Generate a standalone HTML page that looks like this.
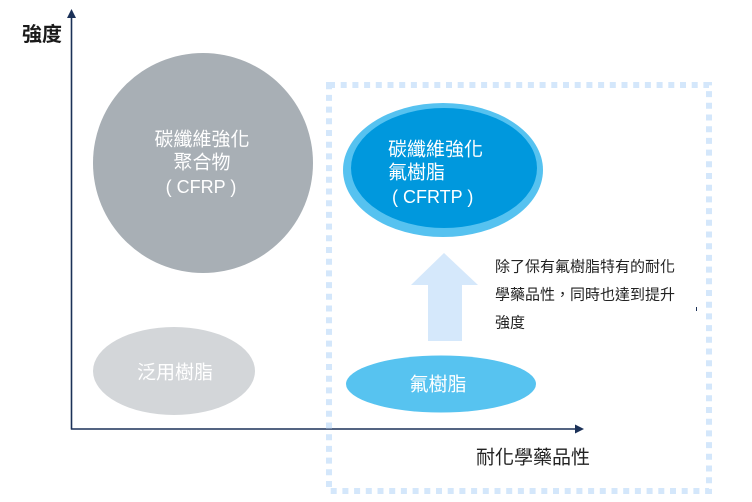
<!DOCTYPE html>
<html>
<head>
<meta charset="utf-8">
<style>
  html, body { margin:0; padding:0; background:#ffffff; }
  body { width:752px; height:502px; overflow:hidden; }
  svg { display:block; }
  .cjk { font-family: "Liberation Sans", "Noto Sans CJK TC", sans-serif; }
</style>
</head>
<body>
<svg width="752" height="502" viewBox="0 0 752 502" xmlns="http://www.w3.org/2000/svg">
  <!-- Big grey circle CFRP -->
  <ellipse cx="203" cy="163" rx="110" ry="110" fill="#a8afb5"/>
  <g class="cjk" fill="#ffffff" font-size="19" text-anchor="middle" dominant-baseline="central">
    <text x="202" y="140">碳纖維強化</text>
    <text x="202" y="163">聚合物</text>
    <text x="201" y="187" font-size="18">( CFRP )</text>
  </g>

  <!-- Small grey ellipse -->
  <ellipse cx="174" cy="371" rx="81" ry="44" fill="#d3d6d9"/>
  <text class="cjk" x="175" y="373" fill="#ffffff" font-size="19" text-anchor="middle" dominant-baseline="central">泛用樹脂</text>

  <!-- Axes -->
  <line x1="71.5" y1="15" x2="71.5" y2="429.5" stroke="#1b3158" stroke-width="1.6"/>
  <polygon points="71.5,9 67,18 76,18" fill="#1b3158"/>
  <line x1="71" y1="429" x2="577" y2="429" stroke="#1b3158" stroke-width="1.6"/>
  <polygon points="584,429 575,424.5 575,433.5" fill="#1b3158"/>

  <!-- Axis labels -->
  <text class="cjk" x="22" y="35" fill="#1a1a1a" font-size="20" font-weight="bold" dominant-baseline="central">強度</text>
  <text class="cjk" x="476" y="458" fill="#222222" font-size="19" dominant-baseline="central">耐化學藥品性</text>

  <!-- Dotted frame -->
  <rect x="329" y="85" width="380" height="406" fill="none" stroke="#d4e7fb" stroke-width="6" stroke-dasharray="6 5.7"/>

  <!-- Big blue ellipse CFRTP -->
  <ellipse cx="443" cy="170" rx="100" ry="67" fill="#56c2f0"/>
  <ellipse cx="444" cy="168" rx="93" ry="60" fill="#0098dd"/>
  <g class="cjk" fill="#ffffff" font-size="19" dominant-baseline="central">
    <text x="388" y="150">碳纖維強化</text>
    <text x="388" y="173">氟樹脂</text>
    <text x="392" y="197" font-size="18">( CFRTP )</text>
  </g>

  <!-- Up arrow -->
  <polygon points="444,253 478,285 462,285 462,341 428,341 428,285 411,285" fill="#d5e8fb"/>

  <!-- Description text -->
  <g class="cjk" fill="#222222" font-size="15" dominant-baseline="central">
    <text x="495" y="267">除了保有氟樹脂特有的耐化</text>
    <text x="495" y="295">學藥品性，同時也達到提升</text>
    <text x="495" y="323">強度</text>
  </g>
  <line x1="696.5" y1="307" x2="696.5" y2="311" stroke="#1b3158" stroke-width="1"/>

  <!-- Fluororesin ellipse -->
  <ellipse cx="441" cy="384" rx="95" ry="28.5" fill="#57c3f0"/>
  <text class="cjk" x="438" y="385" fill="#ffffff" font-size="19" text-anchor="middle" dominant-baseline="central">氟樹脂</text>
</svg>
</body>
</html>
